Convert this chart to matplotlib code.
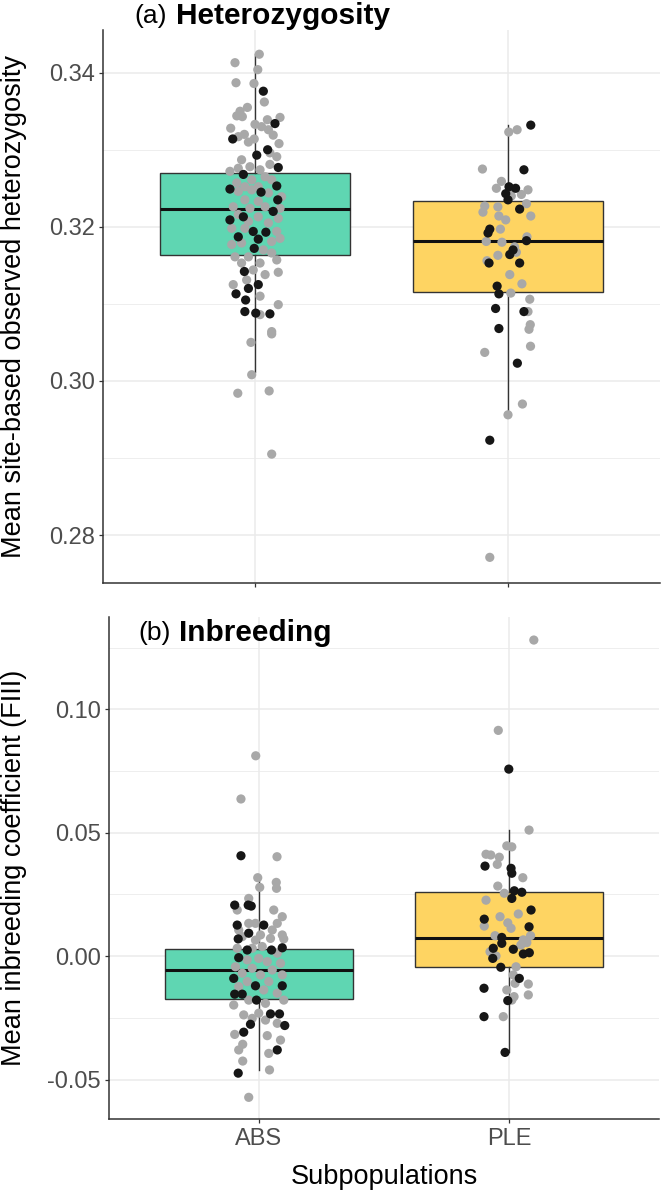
import matplotlib
matplotlib.use('Agg')
import matplotlib.pyplot as plt
from matplotlib.ticker import FixedLocator

plt.rcParams['font.family'] = ['Liberation Sans', 'DejaVu Sans']

groups = ['ABS', 'PLE']
box_colors = ['#5FD6B2', '#FED462']
grey_pt = '#A8A8A8'
black_pt = '#161616'

# box stats: (whislo, q1, med, q3, whishi)
het_box = [(0.3011, 0.3164, 0.3223, 0.3270, 0.3424),
           (0.2956, 0.3115, 0.3181, 0.3234, 0.3332)]
inb_box = [(-0.0461, -0.0175, -0.0056, 0.0029, 0.0318),
           (-0.0390, -0.0045, 0.0072, 0.0259, 0.0511)]

# jittered points: (jitter offset from group centre, value)
het_abs_grey = [(0.017, 0.3424), (-0.079, 0.3413), (0.011, 0.3404), (-0.075, 0.3387), (-0.004, 0.3386),
                (0.037, 0.3362), (-0.030, 0.3355), (-0.059, 0.3350), (-0.072, 0.3344), (-0.050, 0.3343),
                (0.099, 0.3342), (0.049, 0.3339), (0.0, 0.3333), (-0.096, 0.3328), (0.026, 0.3330),
                (0.053, 0.3326), (-0.042, 0.3320), (0.072, 0.3319), (-0.066, 0.3317), (-0.003, 0.3314),
                (-0.026, 0.3310), (0.095, 0.3308), (0.059, 0.3296), (0.086, 0.3291), (-0.053, 0.3287),
                (-0.099, 0.3272), (-0.066, 0.3276), (-0.020, 0.3278), (0.020, 0.3274), (0.059, 0.3281),
                (0.040, 0.3265), (-0.013, 0.3261), (0.066, 0.3261), (-0.072, 0.3257), (0.013, 0.3252),
                (-0.040, 0.3252), (-0.066, 0.3246), (-0.013, 0.3248), (0.053, 0.3244), (0.105, 0.3239),
                (-0.040, 0.3235), (0.013, 0.3233), (-0.086, 0.3226), (-0.020, 0.3224), (0.040, 0.3226),
                (0.099, 0.3224), (-0.066, 0.3216), (0.013, 0.3213), (0.092, 0.3211), (-0.026, 0.3207),
                (0.053, 0.3205), (-0.092, 0.3198), (-0.040, 0.3198), (0.086, 0.3194), (-0.092, 0.3177),
                (-0.053, 0.3179), (0.066, 0.3181), (0.099, 0.3185), (0.033, 0.3170), (-0.079, 0.3161),
                (-0.026, 0.3161), (0.066, 0.3166), (-0.053, 0.3153), (0.020, 0.3153), (0.086, 0.3157),
                (-0.007, 0.3144), (0.092, 0.3141), (0.040, 0.3138), (-0.086, 0.3125), (-0.033, 0.3131),
                (0.020, 0.3110), (0.092, 0.3099), (0.020, 0.3086), (0.066, 0.3064), (0.066, 0.3061),
                (-0.016, 0.3050), (-0.013, 0.3008), (-0.068, 0.2984), (0.056, 0.2987), (0.066, 0.2905)]
het_abs_black = [(0.033, 0.3376), (0.079, 0.3334), (-0.088, 0.3314), (0.007, 0.3293), (0.050, 0.3300),
                 (0.092, 0.3277), (-0.046, 0.3268), (0.086, 0.3253), (-0.099, 0.3249), (0.024, 0.3245),
                 (0.090, 0.3235), (-0.046, 0.3213), (-0.099, 0.3209), (0.072, 0.3220), (-0.007, 0.3194),
                 (0.043, 0.3193), (-0.066, 0.3187), (0.013, 0.3184), (-0.003, 0.3172), (-0.042, 0.3142),
                 (0.013, 0.3125), (-0.026, 0.3120), (-0.075, 0.3113), (-0.037, 0.3105), (-0.040, 0.3090),
                 (0.003, 0.3088), (0.059, 0.3087)]
het_ple_grey = [(0.003, 0.3323), (0.036, 0.3326), (-0.101, 0.3275), (-0.026, 0.3259), (-0.046, 0.3250),
                (0.008, 0.3249), (0.079, 0.3248), (0.053, 0.3242), (0.013, 0.3240), (-0.092, 0.3227),
                (-0.040, 0.3226), (0.073, 0.3230), (-0.099, 0.3219), (-0.036, 0.3214), (-0.009, 0.3209),
                (0.090, 0.3214), (-0.030, 0.3197), (-0.086, 0.3181), (-0.024, 0.3180), (0.075, 0.3187),
                (0.026, 0.3174), (0.033, 0.3167), (-0.040, 0.3163), (-0.083, 0.3156), (0.007, 0.3138),
                (0.055, 0.3126), (0.011, 0.3114), (0.086, 0.3106), (0.079, 0.3090), (0.088, 0.3073),
                (0.083, 0.3067), (-0.092, 0.3037), (0.089, 0.3045), (0.057, 0.2970), (0.0, 0.2956),
                (-0.072, 0.2771)]
het_ple_black = [(0.090, 0.3332), (0.063, 0.3274), (0.004, 0.3252), (0.030, 0.3250), (-0.009, 0.3243),
                 (0.0, 0.3235), (0.046, 0.3223), (-0.072, 0.3197), (-0.079, 0.3192), (0.073, 0.3182),
                 (0.020, 0.3170), (0.007, 0.3164), (0.046, 0.3153), (-0.075, 0.3153), (-0.043, 0.3123),
                 (-0.036, 0.3113), (-0.049, 0.3094), (0.063, 0.3090), (-0.036, 0.3068), (0.037, 0.3023),
                 (-0.072, 0.2923)]

inb_abs_grey = [(-0.013, 0.0812), (-0.072, 0.0637), (0.072, 0.0403), (-0.005, 0.0318), (0.003, 0.0279),
                (0.069, 0.0299), (0.070, 0.0275), (-0.041, 0.0234), (-0.087, 0.0187), (0.059, 0.0187),
                (0.093, 0.0160), (0.073, 0.0133), (-0.014, 0.0133), (-0.041, 0.0133), (-0.081, 0.0106),
                (0.006, 0.0086), (0.093, 0.0086), (0.053, 0.0106), (-0.067, 0.0079), (-0.014, 0.0065),
                (0.046, 0.0072), (0.099, 0.0070), (-0.027, 0.0032), (0.013, 0.0039), (0.073, 0.0012),
                (-0.087, 0.0032), (-0.047, -0.0015), (-0.001, -0.0009), (0.033, -0.0022), (0.086, -0.0029),
                (-0.094, -0.0043), (-0.027, -0.0049), (0.053, -0.0056), (-0.067, -0.0069), (0.006, -0.0076),
                (0.093, -0.0076), (-0.047, -0.0103), (0.039, -0.0103), (-0.081, -0.0123), (0.019, -0.0137),
                (0.073, -0.0150), (-0.101, -0.0198), (-0.041, -0.0178), (0.099, -0.0178), (0.026, -0.0191),
                (-0.061, -0.0238), (-0.001, -0.0231), (-0.027, -0.0252), (0.026, -0.0259), (0.073, -0.0272),
                (-0.097, -0.0317), (0.033, -0.0322), (0.086, -0.0340), (-0.065, -0.0357), (-0.081, -0.0380),
                (0.039, -0.0394), (-0.065, -0.0425), (0.042, -0.0461), (-0.041, -0.0572)]
inb_abs_black = [(-0.072, 0.0407), (-0.097, 0.0207), (-0.043, 0.0207), (-0.031, 0.0203), (0.019, 0.0126),
                 (-0.087, 0.0126), (-0.041, 0.0093), (-0.083, 0.0070), (-0.081, -0.0006), (0.050, 0.0025),
                 (0.093, 0.0034), (-0.047, 0.0025), (-0.101, -0.0090), (-0.014, -0.0120), (0.093, -0.0120),
                 (-0.097, -0.0154), (-0.067, -0.0154), (-0.010, -0.0178), (0.046, -0.0234), (0.082, -0.0234),
                 (0.103, -0.0281), (-0.034, -0.0276), (-0.061, -0.0308), (0.073, -0.0380), (-0.083, -0.0474)]
inb_ple_grey = [(0.098, 0.1281), (-0.044, 0.0915), (0.079, 0.0511), (-0.010, 0.0447), (0.010, 0.0443),
                (-0.093, 0.0413), (-0.074, 0.0410), (-0.040, 0.0401), (-0.048, 0.0372), (0.054, 0.0318),
                (-0.046, 0.0284), (-0.020, 0.0255), (-0.093, 0.0227), (0.036, 0.0171), (-0.037, 0.0160),
                (-0.006, 0.0135), (-0.100, 0.0122), (0.007, 0.0113), (-0.057, 0.0083), (0.085, 0.0083),
                (0.056, 0.0066), (0.046, 0.0045), (0.070, 0.0055), (-0.077, 0.0018), (-0.053, 0.0001),
                (0.027, -0.0043), (0.016, -0.0076), (0.023, -0.0110), (0.076, -0.0113), (-0.010, -0.0137),
                (0.076, -0.0157), (0.019, -0.0164), (0.010, -0.0178), (-0.024, -0.0245)]
inb_ple_black = [(-0.002, 0.0758), (-0.097, 0.0365), (0.007, 0.0356), (0.010, 0.0336), (0.020, 0.0265),
                 (0.050, 0.0259), (0.010, 0.0234), (0.087, 0.0187), (-0.100, 0.0150), (0.079, 0.0119),
                 (-0.030, 0.0076), (-0.030, 0.0052), (0.016, 0.0028), (-0.064, 0.0032), (0.080, 0.0014),
                 (0.056, 0.0009), (-0.066, -0.0009), (-0.034, -0.0045), (0.040, -0.0090), (-0.101, -0.0130),
                 (-0.006, -0.0180), (-0.101, -0.0245), (-0.017, -0.0390)]

het_ticks = [0.28, 0.30, 0.32, 0.34]
het_minor = [0.27, 0.29, 0.31, 0.33]
inb_ticks = [-0.05, 0.00, 0.05, 0.10]
inb_minor = [-0.025, 0.025, 0.075, 0.125]


def draw_panel(ax, box, pts, ticks, minor, ylim):
    stats = [dict(whislo=b[0], q1=b[1], med=b[2], q3=b[3], whishi=b[4]) for b in box]
    bp = ax.bxp(stats, positions=[1, 2], widths=0.75, patch_artist=True,
                showfliers=False, showcaps=False,
                boxprops=dict(edgecolor='#333333', linewidth=1.0),
                medianprops=dict(color='#111111', linewidth=2.2),
                whiskerprops=dict(color='#333333', linewidth=1.0), zorder=2)
    for patch, c in zip(bp['boxes'], box_colors):
        patch.set_facecolor(c)
    for pos, (grey, black) in zip([1, 2], pts):
        ax.scatter([pos + j for j, v in grey], [v for j, v in grey], s=44,
                   color=grey_pt, edgecolors='none', zorder=3)
        ax.scatter([pos + j for j, v in black], [v for j, v in black], s=44,
                   color=black_pt, edgecolors='none', zorder=3)
    ax.set_xlim(0.4, 2.6)
    ax.set_ylim(*ylim)
    ax.set_xticks([1, 2])
    ax.set_yticks(ticks)
    ax.yaxis.set_minor_locator(FixedLocator(minor))
    ax.set_yticklabels(['%.2f' % t for t in ticks])
    ax.grid(True, which='major', color='#EBEBEB', linewidth=1.1)
    ax.grid(True, which='minor', axis='y', color='#EBEBEB', linewidth=0.6)
    ax.set_axisbelow(True)
    for s in ['top', 'right']:
        ax.spines[s].set_visible(False)
    for s in ['left', 'bottom']:
        ax.spines[s].set_color('#333333')
        ax.spines[s].set_linewidth(1.1)
    ax.tick_params(which='major', length=3.2, width=0.9, color='#333333',
                   labelsize=17, labelcolor='#4D4D4D', pad=2.5)
    ax.tick_params(which='minor', length=0)


fig = plt.figure(figsize=(6.61, 11.92), dpi=100)
ax1 = fig.add_axes([0.1561, 0.5109, 0.8421, 0.4639])
ax2 = fig.add_axes([0.1646, 0.0612, 0.8331, 0.4211])

draw_panel(ax1, het_box, [(het_abs_grey, het_abs_black), (het_ple_grey, het_ple_black)],
           het_ticks, het_minor, (0.27377, 0.34554))
ax1.set_xticklabels(['', ''])

draw_panel(ax2, inb_box, [(inb_abs_grey, inb_abs_black), (inb_ple_grey, inb_ple_black)],
           inb_ticks, inb_minor, (-0.0660, 0.1374))
ax2.set_yticklabels([('%.2f' % t).replace('\u2212', '-') for t in inb_ticks])
ax2.set_xticklabels(groups)
ax2.tick_params(axis='x', pad=3.6)

fig.text(134 / 661, 1 - 23 / 1192, '(a)', fontsize=19, va='baseline', ha='left')
fig.text(176 / 661, 1 - 24 / 1192, 'Heterozygosity', fontsize=21.5, fontweight='bold',
         va='baseline', ha='left')
fig.text(138 / 661, 1 - 640 / 1192, '(b)', fontsize=19, va='baseline', ha='left')
fig.text(179 / 661, 1 - 641 / 1192, 'Inbreeding', fontsize=21.5, fontweight='bold',
         va='baseline', ha='left')

fig.text(14 / 661, 1 - 306.5 / 1192, 'Mean site-based observed heterozygosity', fontsize=19.5,
         rotation=90, ha='center', va='center')
fig.text(14 / 661, 1 - 868 / 1192, 'Mean inbreeding coefficient (FIII)', fontsize=19.5,
         rotation=90, ha='center', va='center')
fig.text(384 / 661, 1 - 1177 / 1192, 'Subpopulations', fontsize=19.5, ha='center', va='center')

plt.savefig('out.png', dpi=100)
plt.close()
